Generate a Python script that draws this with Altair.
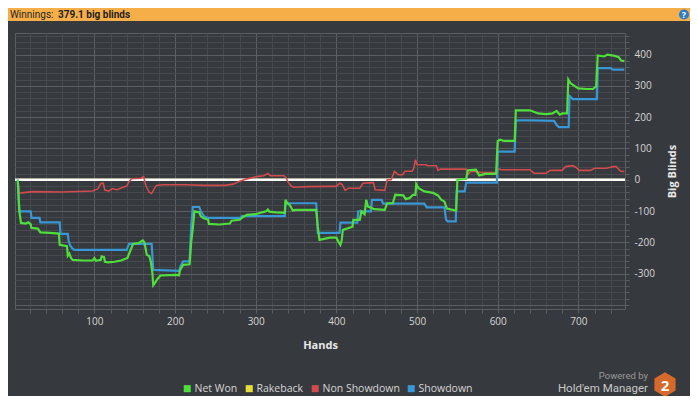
import altair as alt
import pandas as pd

# ---------------- data ----------------
SERIES = ["Net Won", "Rakeback", "Non Showdown", "Showdown"]
LINE_COLORS = ["#50de3c", "#e6dc3a", "#d04b4d", "#3a97d6"]

NET_HANDS = [5, 7, 9, 15, 18, 21, 22, 30, 33, 45, 56, 57, 66, 67, 69, 71, 73, 85, 98, 100,
             102, 108, 109, 112, 113, 117, 125, 133, 141, 144, 148, 155, 160, 162, 165, 168,
             170, 172, 173, 175, 178, 182, 200, 205, 206, 210, 218, 220, 222, 224, 230, 232,
             235, 241, 242, 255, 268, 270, 280, 285, 289, 300, 308, 313, 315, 317, 325, 336,
             337, 339, 342, 346, 350, 375, 377, 379, 392, 400, 403, 405, 406.5, 408, 420, 421,
             429, 431, 435, 437, 439, 447, 460, 463, 470, 473, 483, 486, 491, 495, 498, 499,
             502, 509, 520, 526, 530, 534, 537, 547, 548.5, 550, 561, 563, 573, 577, 585, 598,
             600, 603, 608, 621, 622.5, 640, 650, 660, 668, 673, 677, 680, 686, 687.5, 690,
             695, 700, 710, 718, 722, 724, 732, 736, 745, 750, 753, 757]
NET_VALUES = [0, -100, -138, -140, -136, -142, -154, -156, -168, -170, -172, -208, -212, -243,
              -236, -250, -256, -258, -258, -250, -259, -256, -245, -247, -262, -264, -262,
              -258, -250, -230, -205, -202, -194, -200, -240, -244, -262, -300, -337, -330,
              -318, -306, -304, -305, -290, -272, -270, -200, -155, -101, -104, -117, -122,
              -128, -141, -143, -140, -131, -128, -118, -112, -110, -104, -101, -95, -102,
              -104, -106, -64, -75, -80, -98, -96, -96, -150, -192, -185, -185, -200, -208,
              -195, -160, -150, -128, -128, -101, -110, -64, -85, -94, -96, -75, -75, -48,
              -50, -62, -58, -48, -48, -14, -27, -37, -42, -50, -64, -70, -92, -98, -98, 0,
              3, 30, 32, 14, 19, 19, 124, 128, 124, 124, 222, 222, 212, 210, 212, 220, 208,
              212, 212, 320, 309, 300, 292, 290, 290, 298, 397, 394, 400, 396, 392, 381, 379]

SD_HANDS = [5, 7, 21, 22, 32, 33, 57, 58, 67, 68, 70, 73, 75, 140, 143, 171, 173, 205, 207,
            210, 218, 220, 222, 230, 232, 236, 241, 281, 283, 336, 337, 375, 377, 404, 405,
            426, 427, 443, 444, 456, 458, 509, 512, 534, 536, 538, 548, 549, 559, 561, 599,
            600, 621, 622.5, 640, 670, 673, 676, 688, 689, 693, 723, 724, 740, 743, 757]
SD_VALUES = [0, -101, -101, -122, -122, -136, -136, -173, -173, -194, -210, -220, -224, -224,
             -205, -205, -288, -291, -275, -261, -261, -150, -87, -87, -101, -117, -122, -122,
             -116, -116, -75, -75, -170, -170, -137, -137, -101, -101, -64, -64, -76, -76,
             -88, -88, -128, -133, -133, -37, -37, -9, -9, 90, 90, 190, 190, 188, 175, 168,
             168, 268, 258, 258, 357, 357, 352, 352]

NSD_HANDS = [5, 7, 10, 24, 60, 98, 100, 104, 108, 111, 113, 118, 122, 125, 128, 135, 140, 143,
             146, 158, 161, 164, 168, 171, 174, 177, 185, 214, 235, 262, 272, 280, 288, 301,
             310, 315, 318, 335, 338, 340, 344, 347, 365, 390, 400, 404, 407, 411, 415, 429,
             433, 446, 448, 460, 463, 468, 472, 477, 482, 485, 494, 496, 498, 500, 511, 513,
             524, 526, 529, 561, 563, 567, 575, 580, 598, 601, 604, 640, 645, 660, 665, 680,
             684, 693, 697, 701, 715, 720, 735, 743, 747, 752, 757]
NSD_VALUES = [0, -43, -42, -38, -39, -36, -33, -30, -12, -11, -33, -36, -28, -30, -32, -25,
              -20, -6, 3, 5, 10, -20, -40, -44, -30, -18, -16, -16, -18, -18, -14, -5, 2, 10,
              13, 20, 13, 13, 5, -7, -20, -24, -22, -21, -21, -11, -15, -34, -27, -27, -11,
              -9, -32, -34, 0, 0, 27, 16, 16, 27, 27, 37, 64, 48, 48, 45, 45, 30, 34, 34, 16,
              27, 25, 23, 23, 35, 32, 32, 21, 21, 30, 30, 42, 45, 40, 30, 30, 37, 37, 42, 42,
              28, 26]

RB_HANDS = [5, 757]
RB_VALUES = [0, 0]

ZERO = [0]
X_TICKS = list(range(20, 760, 20))
Y_TICKS = list(range(-400, 461, 20))
X_DOMAIN = [1.6, 757.8]
Y_DOMAIN = [-413, 469]

HEADER_LABEL = "Winnings:"
HEADER_VALUE = "379.1 big blinds"

# ---------------- styles ----------------
BG = "#36393d"
MAJOR = "#5b5e62"
MINOR = "#46494d"
TXT = "#d6d6d6"
FONT = "Open Sans"
FONT2 = "Roboto"


def series_df(name, hands, values):
    return pd.DataFrame({"hand": hands, "bb": values, "series": name})


xs = alt.Scale(domain=X_DOMAIN, nice=False, zero=False)
ys = alt.Scale(domain=Y_DOMAIN, nice=False, zero=False)
cs = alt.Scale(domain=SERIES, range=LINE_COLORS)

x_axis = alt.Axis(
    values=X_TICKS,
    labelExpr="datum.value % 100 === 0 ? '' + datum.value : ''",
    grid=True,
    gridColor={"condition": {"test": "datum.value % 100 === 0", "value": MAJOR}, "value": MINOR},
    gridWidth=1,
    domain=False,
    ticks=True,
    tickColor=MAJOR,
    tickSize=4,
    labelColor=TXT,
    labelFontSize=10,
    labelPadding=3,
    labelFlush=False,
    labelOverlap=False,
    title="Hands",
    titleColor="#e8e8e8",
    titleFontSize=11,
    titleFontWeight="bold",
    titleX=305,
    titleY=36,
    titleBaseline="middle",
)

y_axis = alt.Axis(
    orient="right",
    values=Y_TICKS,
    labelExpr="datum.value % 100 === 0 && datum.value > -400 ? '' + datum.value : ''",
    grid=True,
    gridColor={"condition": {"test": "datum.value % 100 === 0", "value": MAJOR}, "value": MINOR},
    gridWidth=1,
    domain=False,
    ticks=True,
    tickColor=MAJOR,
    tickSize=4,
    labelColor=TXT,
    labelFontSize=10,
    labelPadding=5,
    labelFlush=False,
    labelOverlap=False,
    title="Big Blinds",
    titleColor="#e8e8e8",
    titleFontSize=11,
    titleFontWeight="bold",
    titleAngle=270,
    titleX=47,
    titleY=138,
    titleAlign="center",
    titleBaseline="middle",
)

legend = alt.Legend(
    orient="none",
    legendX=167,
    legendY=350,
    direction="horizontal",
    title=None,
    symbolType="square",
    symbolSize=12,
    symbolStrokeWidth=3.6,
    symbolOpacity=1,
    labelColor=TXT,
    labelFontSize=10.5,
    labelOffset=2,
    columnPadding=2,
    padding=0,
)


def line_layer(df, width):
    return alt.Chart(df).mark_line(strokeWidth=width, clip=True).encode(
        x=alt.X("hand:Q", scale=xs, axis=x_axis),
        y=alt.Y("bb:Q", scale=ys, axis=y_axis),
        color=alt.Color("series:N", scale=cs, legend=legend),
    )


rb = line_layer(series_df("Rakeback", RB_HANDS, RB_VALUES), 2)
zero = alt.Chart(pd.DataFrame({"bb": ZERO})).mark_rule(color="#ffffff", strokeWidth=2.5).encode(
    y=alt.Y("bb:Q", scale=ys, axis=y_axis)
)
nsd = line_layer(series_df("Non Showdown", NSD_HANDS, NSD_VALUES), 1.6)
sd = line_layer(series_df("Showdown", SD_HANDS, SD_VALUES), 2.2)
net = line_layer(series_df("Net Won", NET_HANDS, NET_VALUES), 2.2)

one = pd.DataFrame({"a": [0]})
header = alt.Chart(one).mark_rect(color="#f5ae48").encode(
    x=alt.value(-7), x2=alt.value(675), y=alt.value(-25), y2=alt.value(-12)
)
header_t1 = alt.Chart(one).mark_text(
    text=HEADER_LABEL, align="left", baseline="alphabetic", fontSize=10, color="#262626", font=FONT2
).encode(x=alt.value(-5), y=alt.value(-15))
header_t2 = alt.Chart(one).mark_text(
    text=HEADER_VALUE, align="left", baseline="alphabetic", fontSize=10, fontWeight="bold",
    color="#1e1e1e", font=FONT2
).encode(x=alt.value(43), y=alt.value(-15))
help_c = alt.Chart(one).mark_circle(color="#2b7cc6", opacity=1, size=100).encode(
    x=alt.value(669), y=alt.value(-18.5)
)
help_t = alt.Chart(one).mark_text(
    text="?", fontSize=9, fontWeight="bold", color="#ffffff", font=FONT, baseline="middle"
).encode(x=alt.value(669), y=alt.value(-18))

HEX = "M0,-1L0.866,-0.5L0.866,0.5L0,1L-0.866,0.5L-0.866,-0.5Z"
powered = alt.Chart(one).mark_text(
    text="Powered by", align="right", baseline="alphabetic", fontSize=9.5, color="#9a9a9a", font=FONT2
).encode(x=alt.value(633), y=alt.value(346))
hm = alt.Chart(one).mark_text(
    text="Hold'em Manager", align="right", baseline="alphabetic", fontSize=11.5, color="#c8c8c8", font=FONT2
).encode(x=alt.value(633), y=alt.value(358.5))
hexa = alt.Chart(one).mark_point(shape=HEX, filled=True, size=600, color="#d4692b", opacity=1).encode(
    x=alt.value(650), y=alt.value(351.5)
)
two = alt.Chart(one).mark_text(
    text="2", fontSize=15, fontWeight="bold", color="#ffffff", font=FONT, baseline="middle"
).encode(x=alt.value(650), y=alt.value(352.5))

chart = alt.layer(
    rb, zero, nsd, sd, net, header, header_t1, header_t2, help_c, help_t, powered, hm, hexa, two
).properties(
    width=610,
    height=276,
    padding={"left": 7, "top": 25, "right": 65, "bottom": 87},
    autosize=alt.AutoSizeParams(type="none"),
    background=BG,
).configure(
    font=FONT
).configure_view(
    stroke=MAJOR, strokeWidth=1
)

chart.save("out.html", embed_options={"renderer": "svg", "actions": False})
